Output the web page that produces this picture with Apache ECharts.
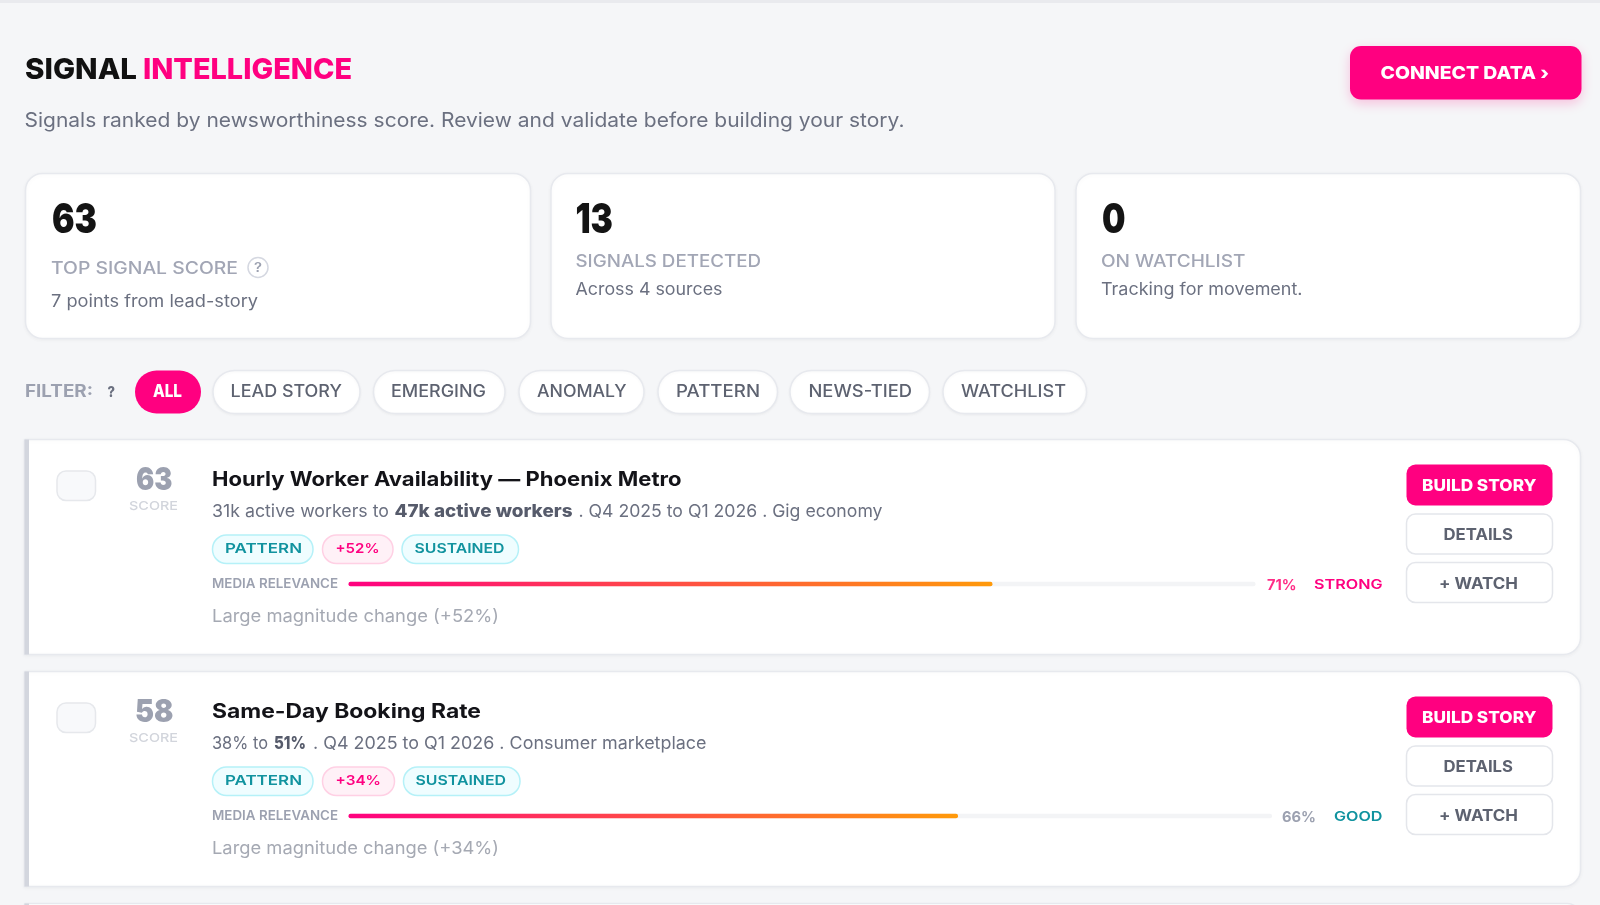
<!DOCTYPE html>
<html>
<head>
<meta charset="utf-8">
<title>Signal Intelligence</title>
<script src="https://cdn.jsdelivr.net/npm/echarts@6/dist/echarts.min.js"></script>
<style>
html, body { margin: 0; padding: 0; background: #f5f6f8; }
#main { width: 1600px; height: 905px; }
</style>
</head>
<body>
<div id="main"></div>
<script>
// data
var statValues = ["63", "13", "0"];
var statLabels = ["TOP SIGNAL SCORE", "SIGNALS DETECTED", "ON WATCHLIST"];
var statNotes = ["7 points from lead-story", "Across 4 sources", "Tracking for movement."];
var filterNames = ["ALL", "LEAD STORY", "EMERGING", "ANOMALY", "PATTERN", "NEWS-TIED", "WATCHLIST"];

var signalTitles = ["Hourly Worker Availability — Phoenix Metro", "Same-Day Booking Rate"];
var signalScores = [63, 58];
var signalFrom = ["31k active workers to", "38% to"];
var signalTo = ["47k active workers", "51%"];
var signalRest = [". Q4 2025 to Q1 2026 . Gig economy", ". Q4 2025 to Q1 2026 . Consumer marketplace"];
var signalChange = ["+52%", "+34%"];
var signalNotes = ["Large magnitude change (+52%)", "Large magnitude change (+34%)"];
var relevanceValues = [71, 66];
var relevanceGrades = ["STRONG", "GOOD"];

// colours
var PINK = "#ff0080", TEAL = "#11939f", GREY = "#9ca1b0", BORDER = "#e7e9ee";
var FONT = "Inter";

var chart = echarts.init(document.getElementById("main"));
var measure = document.createElement("canvas").getContext("2d");
var g = [];

function box(x0, y0, x1, y1, r, fill, stroke, extra) {
    var style = { fill: fill, stroke: stroke || null, lineWidth: stroke ? 1.5 : 0 };
    for (var k in extra) { style[k] = extra[k]; }
    g.push({ type: "rect", silent: true, z: 1, shape: { x: x0, y: y0, width: x1 - x0, height: y1 - y0, r: r }, style: style });
}

// text is stretched to the span it has in the picture, yMid is the middle of the capitals
function text(str, x0, x1, yMid, size, weight, color) {
    measure.font = weight + " " + size + "px " + FONT;
    var w = measure.measureText(str).width;
    g.push({
        type: "text", silent: true, z: 10, x: x0, y: yMid, scaleX: (x1 - x0) / w,
        style: { text: str, fontFamily: FONT, fontSize: size, fontWeight: weight, fill: color, align: "left", verticalAlign: "middle" }
    });
}

// header
box(0, 0, 1600, 3, 0, "#e9eaee");
text("SIGNAL", 25, 137, 70, 29, 800, "#111111");
text("INTELLIGENCE", 143, 352, 70, 29, 800, PINK);
text("Signals ranked by newsworthiness score. Review and validate before building your story.", 24.5, 904.5, 120.5, 20, 400, "#6b7080");
box(1350, 46, 1581.5, 99.5, 11, PINK, null, { shadowBlur: 12, shadowOffsetY: 4, shadowColor: "rgba(255,0,128,0.22)" });
text("CONNECT DATA ›", 1380.5, 1549, 73.5, 18, 800, "#ffffff");

// stat cards
var cardX = [[25.5, 530.5], [551, 1055], [1076, 1580.5]];
var numX = [[52, 97], [575.5, 613], [1102, 1125.5]];
var labelX = [[51, 238], [575.5, 761], [1101, 1245.5]];
var noteX = [[51, 258], [575.5, 722.5], [1101, 1302.5]];
var labelY = [269, 261.5, 261.5];
var noteY = [302, 289.5, 289.5];
for (var i = 0; i < 3; i++) {
    box(cardX[i][0], 173.5, cardX[i][1], 338.5, 17, "#ffffff", BORDER, { shadowBlur: 4, shadowOffsetY: 1, shadowColor: "rgba(20,20,40,0.04)" });
    text(statValues[i], numX[i][0], numX[i][1], 220.5, 41, 900, "#141414");
    text(statLabels[i], labelX[i][0], labelX[i][1], labelY[i], 17, 500, "#a2a6b5");
    text(statNotes[i], noteX[i][0], noteX[i][1], noteY[i], 17, 400, "#6b7080");
}
g.push({ type: "circle", silent: true, z: 5, shape: { cx: 258, cy: 267.5, r: 10 }, style: { fill: "#ffffff", stroke: "#d5d8e1", lineWidth: 1.5 } });
text("?", 254, 262, 268, 13, 600, "#9ca1b0");

// filter row
text("FILTER:", 25, 93, 392, 17, 700, GREY);
text("?", 107.5, 115, 392, 15, 800, "#6b7080");
var pillX = [[135, 201], [213, 360], [373.5, 505], [519, 644], [658, 777.5], [790, 929.5], [943, 1086.5]];
var pillTextX = [[153, 182], [230.5, 342], [391, 486], [537, 626.5], [676, 760], [808.5, 912], [961, 1066]];
for (var i = 0; i < filterNames.length; i++) {
    if (i == 0) {
        box(pillX[i][0], 370.5, pillX[i][1], 413.5, 21.5, PINK);
    } else {
        box(pillX[i][0], 370.5, pillX[i][1], 413.5, 21.5, "#ffffff", BORDER, { shadowBlur: 3, shadowOffsetY: 1, shadowColor: "rgba(20,20,40,0.04)" });
    }
    text(filterNames[i], pillTextX[i][0], pillTextX[i][1], 392, 17, i == 0 ? 800 : 500, i == 0 ? "#ffffff" : "#5d6270");
}

// signal rows
var rowStep = 232;
var scoreX = [[136, 172.5], [135, 173.5]];
var titleEnd = [681.5, 481];
var fromEnd = [389, 268];
var toX = [[394.5, 572.5], [274, 306]];
var restX = [[578.5, 882.5], [313, 706.5]];
var changeEnd = [393, 394.5];
var changeTextEnd = [379.5, 381];
var sustainX = [[402, 518.5], [403.5, 520]];
var sustainTextX = [[414.5, 504.5], [415.5, 506]];
var pctX = [[1267, 1296.5], [1282, 1316]];
var gradeX = [[1314, 1382.5], [1334, 1382.5]];
var pctColor = ["#ff2d87", GREY];
var gradeColor = [PINK, TEAL];

var grids = [], xAxes = [], yAxes = [], series = [];
var trackEnd = [1255.5, 1272];

for (var i = 0; i < signalTitles.length; i++) {
    var dy = i * rowStep;
    box(24.5, 439.5 + dy, 1580.5, 654.5 + dy, [0, 17, 17, 0], "#ffffff", BORDER, { shadowBlur: 4, shadowOffsetY: 1, shadowColor: "rgba(20,20,40,0.04)" });
    box(24.5, 439.5 + dy, 29, 654.5 + dy, 0, "#d3d6de");
    box(57, 471 + dy, 95.5, 500.5 + dy, 9, "#f8f9fb", "#e6e8ec");

    text(String(signalScores[i]), scoreX[i][0], scoreX[i][1], 480.5 + dy, 32, 900, "#9ca1b0");
    text("SCORE", 129, 178, 506.5 + dy, 12, 500, "#d2d5dc");

    text(signalTitles[i], 212, titleEnd[i], 479.5 + dy, 20, 700, "#131318");
    text(signalFrom[i], 212, fromEnd[i], 511.5 + dy, 17.5, 400, "#6b7080");
    text(signalTo[i], toX[i][0], toX[i][1], 511.5 + dy, 17.5, 800, "#565b6b");
    text(signalRest[i], restX[i][0], restX[i][1], 511.5 + dy, 17.5, 400, "#6b7080");

    box(212.5, 535 + dy, 313, 563.5 + dy, 14, "#effdff", "#b5f1f8");
    text("PATTERN", 225, 302, 548.5 + dy, 13.5, 600, TEAL);
    box(322.5, 535 + dy, changeEnd[i], 563.5 + dy, 14, "#fff1f7", "#ffd0e4");
    text(signalChange[i], 335.5, changeTextEnd[i], 548.5 + dy, 13.5, 600, PINK);
    box(sustainX[i][0], 535 + dy, sustainX[i][1], 563.5 + dy, 14, "#effdff", "#b5f1f8");
    text("SUSTAINED", sustainTextX[i][0], sustainTextX[i][1], 548.5 + dy, 13.5, 600, TEAL);

    text("MEDIA RELEVANCE", 212, 338, 584.5 + dy, 13, 600, "#9ca1b0");
    text(relevanceValues[i] + "%", pctX[i][0], pctX[i][1], 585.5 + dy, 15, 700, pctColor[i]);
    text(relevanceGrades[i], gradeX[i][0], gradeX[i][1], 584.5 + dy, 13.5, 600, gradeColor[i]);
    text(signalNotes[i], 212, 499, 617 + dy, 17.5, 400, "#a5a9b3");

    box(1406.5, 464.5 + dy, 1552.5, 505.5 + dy, 9, PINK);
    text("BUILD STORY", 1422, 1536.5, 486 + dy, 16, 800, "#ffffff");
    box(1406.5, 514 + dy, 1552.5, 554 + dy, 9, "#ffffff", "#e4e6eb");
    text("DETAILS", 1443.5, 1513, 535 + dy, 15.5, 700, "#5d6270");
    box(1406.5, 562.5 + dy, 1552.5, 602.5 + dy, 9, "#ffffff", "#e4e6eb");
    text("+ WATCH", 1439, 1518, 584 + dy, 15.5, 700, "#5d6270");

    // media relevance bar, one grid per row because the tracks differ in length
    grids.push({ left: 348.5, width: trackEnd[i] - 348.5, top: 581.5 + dy, height: 5, containLabel: false });
    xAxes.push({ type: "value", gridIndex: i, min: 0, max: 100, show: false });
    yAxes.push({ type: "category", gridIndex: i, data: [signalTitles[i]], show: false });
    series.push({
        type: "bar", xAxisIndex: i, yAxisIndex: i, data: [relevanceValues[i]], barWidth: 4.5, z: 5,
        silent: true, showBackground: true,
        backgroundStyle: { color: "#f3f4f6", borderRadius: 2 },
        itemStyle: {
            borderRadius: 2,
            color: new echarts.graphic.LinearGradient(0, 0, 1, 0, [
                { offset: 0, color: "#ff0080" },
                { offset: 1, color: "#ff9a0a" }
            ])
        }
    });
}

// top of the third row, cut off by the window
box(24.5, 903.5, 1580.5, 930, [0, 17, 17, 0], "#ffffff", BORDER);
box(24.5, 903.5, 29, 930, 0, "#d3d6de");

chart.setOption({
    animation: false,
    backgroundColor: "#f5f6f8",
    tooltip: { show: false },
    grid: grids,
    xAxis: xAxes,
    yAxis: yAxes,
    series: series,
    graphic: { elements: g }
});
</script>
</body>
</html>
